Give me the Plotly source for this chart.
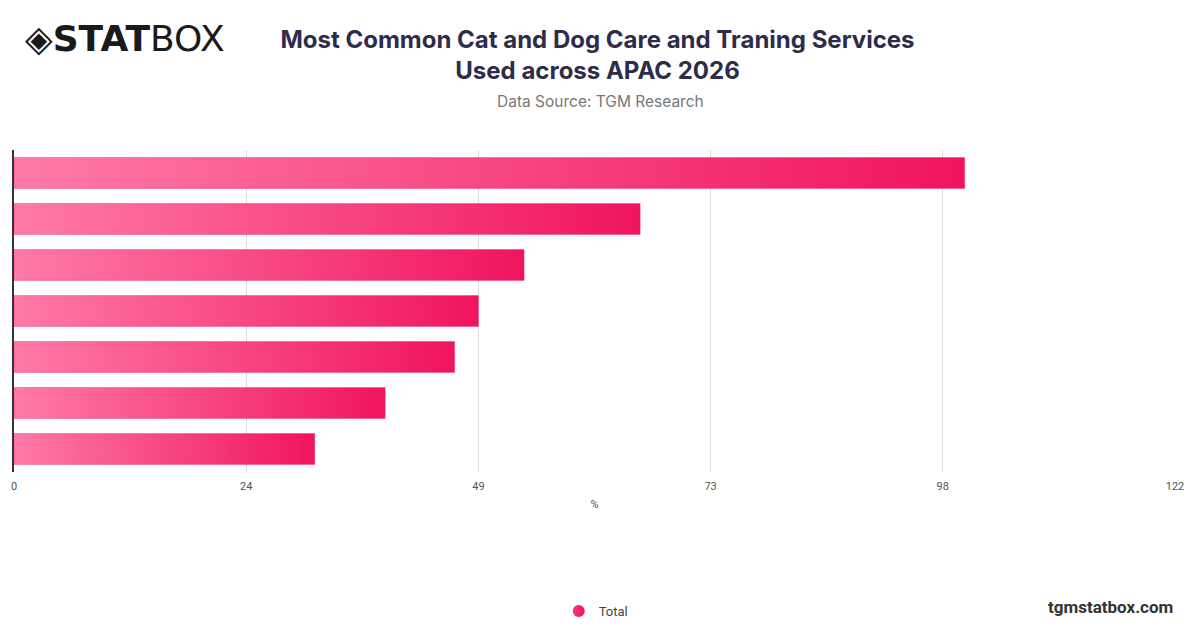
import plotly.graph_objects as go

# Chart data
categories = ["Service 1", "Service 2", "Service 3", "Service 4",
              "Service 5", "Service 6", "Service 7"]
values = [99.9, 65.8, 53.6, 48.8, 46.3, 39.0, 31.6]
tick_vals = [0, 24.4, 48.8, 73.2, 97.6, 122]
tick_text = ["0", "24", "49", "73", "98", "122"]
series_name = "Total"

pink_light = "#ff7aa8"
pink_dark = "#f0145f"
bar_half = 0.335

fig = go.Figure()

# each bar is a filled polygon so it can carry a left-to-right gradient
for i, (cat, v) in enumerate(zip(categories, values)):
    fig.add_trace(go.Scatter(
        x=[0, v, v, 0, 0],
        y=[i - bar_half, i - bar_half, i + bar_half, i + bar_half, i - bar_half],
        mode="lines",
        line=dict(color="rgba(240,20,95,0.35)", width=1),
        fill="toself",
        fillgradient=dict(type="horizontal",
                          colorscale=[[0, pink_light], [1, pink_dark]]),
        name=cat,
        showlegend=False,
        hovertemplate=cat + ": %{x}%<extra></extra>",
    ))

# legend entry
fig.add_trace(go.Scatter(
    x=[None], y=[None], mode="markers", name=series_name,
    marker=dict(symbol="circle", size=15, color="#f5387c",
                gradient=dict(type="horizontal", color=pink_dark)),
))

# page body has an 8px margin, so the figure is sized to the visible area
fig.update_layout(
    width=1184, height=612,
    paper_bgcolor="white", plot_bgcolor="white",
    margin=dict(l=6, r=17, t=142, b=148, autoexpand=False),
    font=dict(family="Roboto, Arial", color="#555"),
    title=dict(
        text="<b>Most Common Cat and Dog Care and Traning Services<br>Used across APAC 2026</b>",
        x=0.4979, xanchor="center", y=0.9346, yanchor="middle",
        font=dict(family="Inter, Roboto", size=24, color="#2e2b4b"),
    ),
    legend=dict(orientation="h", x=0.5015, xanchor="center",
                yref="container", y=0.0147, yanchor="middle",
                font=dict(size=13, color="#444"), itemsizing="constant"),
    showlegend=True,
)

fig.update_xaxes(
    range=[0, 122], tickvals=tick_vals, ticktext=tick_text,
    showgrid=True, gridcolor="#dcdcdc", gridwidth=1, zeroline=False,
    tickfont=dict(size=11, color="#555"), ticks="", ticklabelstandoff=6,
    title=dict(text="%", font=dict(size=11, color="#555"), standoff=8),
)
fig.update_yaxes(
    range=[6.5, -0.5], showticklabels=False, showgrid=False, zeroline=False,
    showline=True, linecolor="#333", linewidth=1.5,
)

fig.add_annotation(
    text="Data Source: TGM Research",
    xref="paper", yref="paper", x=0.5053, y=1.152, xanchor="center", yanchor="middle",
    showarrow=False, font=dict(family="Inter, Roboto", size=15.5, color="#777"),
)
fig.add_annotation(
    text="◈<b>STAT</b>BOX",
    xref="paper", yref="paper", x=0.008, y=1.345, xanchor="left", yanchor="middle",
    showarrow=False, font=dict(family="DejaVu Sans", size=36, color="#1a1a1a"),
)
fig.add_annotation(
    text="<b>tgmstatbox.com</b>",
    xref="paper", yref="paper", x=1.0, y=-0.419, xanchor="right", yanchor="middle",
    showarrow=False, font=dict(family="Roboto", size=17, color="#333"),
)

fig.write_html("out.html")
